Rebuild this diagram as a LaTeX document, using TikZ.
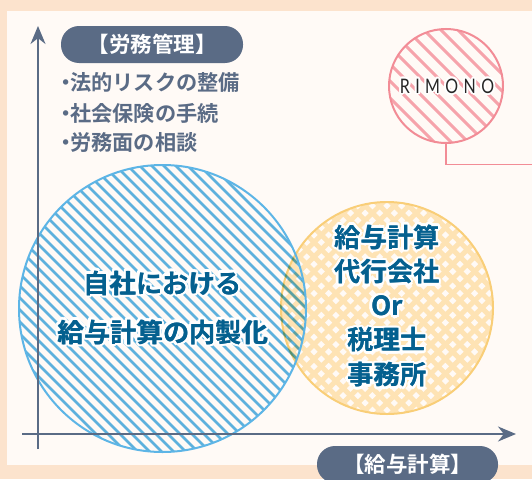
\documentclass[tikz,border=0pt]{standalone}
\usepackage{fontspec}
\setmainfont{Noto Sans CJK JP}[BoldFont={* Bold}]
\newfontfamily\logofont{Lato}[FakeStretch=0.8,LetterSpace=27]
\usetikzlibrary{arrows.meta}
\definecolor{outerbg}{HTML}{FCE3CD}
\definecolor{innerbg}{HTML}{FFFAF6}
\definecolor{slate}{HTML}{5A6B85}
\definecolor{sky}{HTML}{5DB5E6}
\definecolor{amber}{HTML}{F9CE78}
\definecolor{amberfill}{HTML}{FEE3B4}
\definecolor{rose}{HTML}{F28C96}
\definecolor{rosestripe}{HTML}{F6A3AB}
\definecolor{deepblue}{HTML}{04608F}
% white ring of copies behind a text: #1 radius in pt, #2 text
\newcommand{\ring}[2]{\foreach \hang in {0,30,...,330}{\pgfmathsetlengthmacro{\hx}{#1*cos(\hang)}\pgfmathsetlengthmacro{\hy}{#1*sin(\hang)}\rlap{\kern\hx\raisebox{\hy}{\textcolor{white}{#2}}}}}
\newcommand{\halo}[1]{\leavevmode\ring{2.6pt}{#1}\ring{1.3pt}{#1}\rlap{\kern.35pt #1}#1}
\tikzset{
  x=1pt,y=-1pt,
  pill/.style={fill=slate,text=white,font=\bfseries\fontsize{21.5}{21.5}\selectfont,rounded corners=18pt,inner sep=0pt},
  bullets/.style={text=slate,font=\bfseries\fontsize{21.2}{21.2}\selectfont,anchor=west,inner sep=0pt},
  mainlabel/.style={text=deepblue,font=\bfseries\fontsize{26.3}{26.3}\selectfont,inner sep=0pt},
  axis/.style={slate,line width=2pt,-{Stealth[length=18pt,width=15pt]}},
}
\newcommand{\dotitem}[1]{\rlap{\kern-15pt ・}#1}
\begin{document}
\begin{tikzpicture}
\useasboundingbox (0,0) rectangle (532,479);
\fill[outerbg] (0,0) rectangle (532,479);
\fill[innerbg] (7,11) rectangle (532,465);
% orange circle: diamond lattice
\begin{scope}
\clip (387,308) circle (106);
\fill[amberfill] (270,190) rectangle (500,420);
\foreach \i in {-9,...,9}{
  \foreach \j in {-16,...,16}{
    \pgfmathsetmacro{\cx}{387+14.6*\i+7.3*mod(abs(\j),2)}
    \pgfmathsetmacro{\cy}{308+7.3*\j}
    \fill[innerbg] (\cx-3.6,\cy) -- (\cx,\cy-3.6) -- (\cx+3.6,\cy) -- (\cx,\cy+3.6) -- cycle;
  }
}
\end{scope}
\node[draw=amber,line width=2pt,circle,minimum size=212pt,inner sep=0pt] (orange) at (387,308) {};
% blue circle
\begin{scope}[blend mode=multiply]
\clip (162.5,308.5) circle (143.5);
\foreach \i in {-30,...,30}{
  \draw[sky,line width=2.5pt] (162.5+\i*12-200,308.5-200) -- (162.5+\i*12+200,308.5+200);
}
\end{scope}
\node[draw=sky,line width=2pt,circle,minimum size=287pt,inner sep=0pt] (blue) at (162.5,308.5) {};
% rose circle
\begin{scope}
\clip (446,86) circle (57);
\foreach \i in {-12,...,12}{
  \draw[rosestripe,line width=3pt] (446+\i*17-90,86-90) -- (446+\i*17+90,86+90);
}
\end{scope}
\node[draw=rose,line width=2pt,circle,minimum size=114pt,inner sep=0pt] (rimono) at (446,86) {};
\node[inner sep=0pt,text=black!85,font=\fontsize{20}{20}\selectfont] (logo) at (447,86) {\logofont\leavevmode\ring{2pt}{RIMONO}RIMONO};
\coordinate (lineend) at (532,164.5);
\draw[rose,line width=1.4pt] (rimono.south) |- (lineend);
% axes
\coordinate (yfrom) at (38,449);
\coordinate (yto) at (38,26);
\coordinate (xfrom) at (22,434);
\coordinate (xto) at (516,434);
\draw[axis] (yfrom) -- (yto);
\draw[axis] (xfrom) -- (xto);
% labels
\node[pill,minimum width=182pt,minimum height=37pt] (vlabel) at (152,44.5) {【労務管理】};
\node[pill,minimum width=181pt,minimum height=37pt] (hlabel) at (407.5,464.5) {【給与計算】};
\node[bullets] (b1) at (70,82) {\dotitem{法的リスクの整備}};
\node[bullets] (b2) at (70,113) {\dotitem{社会保険の手続}};
\node[bullets] (b3) at (70,142) {\dotitem{労務面の相談}};
\node[mainlabel] (m1) at (162.5,283) {\halo{自社における}};
\node[mainlabel] (m2) at (163,332) {\halo{給与計算の内製化}};
\node[mainlabel] (o1) at (387,237) {\halo{給与計算}};
\node[mainlabel] (o2) at (387,272) {\halo{代行会社}};
\node[mainlabel] (o3) at (387,306) {\halo{Or}};
\node[mainlabel] (o4) at (387,340) {\halo{税理士}};
\node[mainlabel] (o5) at (387,375) {\halo{事務所}};
\end{tikzpicture}
\end{document}
